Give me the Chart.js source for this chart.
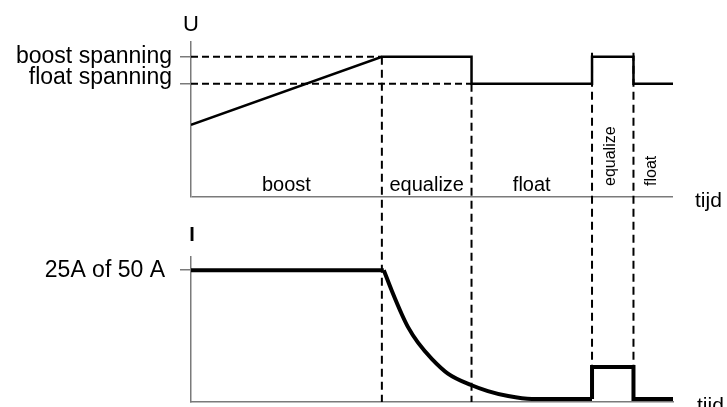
<!DOCTYPE html>
<html>
<head>
<meta charset="utf-8">
<title>Laadfasen</title>
<script src="https://cdn.jsdelivr.net/npm/chart.js@4"></script>
<style>
  html, body { margin: 0; padding: 0; background: #fff; }
  #wrap { width: 727px; height: 407px; }
</style>
</head>
<body>
<div id="wrap"><canvas id="chart" width="727" height="407"></canvas></div>
<script>
// laadfasen, tijd-as loopt van 0 tot 100
const phaseNames = ['boost', 'equalize', 'float', 'equalize', 'float'];
const phaseEdges = [0, 39.6, 58.2, 83.2, 91.8, 100];

// spanning (relatieve schaal 0..100)
const uTickLabels = ['boost spanning', 'float spanning'];
const uTickValues = [90.5, 73];
const uTime = [0, 39.6, 58.2, 58.2, 83.2, 83.2, 91.8, 91.8, 100];
const uValues = [46.5, 90.5, 90.5, 73, 73, 90.5, 90.5, 73, 73];

// stroom (relatieve schaal 0..110)
const iTickLabels = ['25A of 50 A'];
const iTickValues = [100];
const iChargeTime = [0, 40];
const iChargeValues = [100, 100];
const iDecayTime = [40, 41.7, 43.8, 45, 47.1, 50, 53.3, 58.1, 61.6, 65.8, 70.7, 83.2];
const iDecayValues = [100, 84, 66, 57, 45, 32.6, 21.6, 12.9, 8.3, 4.5, 2.3, 2.3];
const iPulseTime = [83.2, 83.2, 91.8, 91.8, 100];
const iPulseValues = [2.3, 26.6, 26.6, 2.3, 2.3];

const axisGrey = '#7a7a7a';
const fontFamily = "'Liberation Sans', Arial, sans-serif";

const toPoints = (xs, ys) => xs.map((x, i) => ({ x: x, y: ys[i] }));

// lijnen die over beide grafieken lopen + teksten
const annotations = {
    id: 'annotations',
    beforeDatasetsDraw(chart) {
        const { ctx } = chart;
        const x = chart.scales.x;
        const yU = chart.scales.yU;
        const yI = chart.scales.yI;
        const boost = uTickValues[0];
        const float = uTickValues[1];
        const pulseTop = Math.max(...iPulseValues);

        const dashed = (x1, y1, x2, y2) => {
            ctx.beginPath();
            ctx.moveTo(x1, y1);
            ctx.lineTo(x2, y2);
            ctx.stroke();
        };

        ctx.save();
        ctx.strokeStyle = '#000';
        ctx.lineWidth = 2;
        ctx.setLineDash([7, 4]);
        dashed(x.getPixelForValue(0), yU.getPixelForValue(boost), x.getPixelForValue(phaseEdges[1]), yU.getPixelForValue(boost));
        dashed(x.getPixelForValue(0), yU.getPixelForValue(float), x.getPixelForValue(phaseEdges[2]), yU.getPixelForValue(float));
        ctx.setLineDash([8, 5]);
        dashed(x.getPixelForValue(phaseEdges[1]), yU.getPixelForValue(boost), x.getPixelForValue(phaseEdges[1]), yI.getPixelForValue(0));
        dashed(x.getPixelForValue(phaseEdges[2]), yU.getPixelForValue(float), x.getPixelForValue(phaseEdges[2]), yI.getPixelForValue(0));
        dashed(x.getPixelForValue(phaseEdges[3]), yU.getPixelForValue(boost) - 4, x.getPixelForValue(phaseEdges[3]), yI.getPixelForValue(pulseTop));
        dashed(x.getPixelForValue(phaseEdges[4]), yU.getPixelForValue(boost) - 4, x.getPixelForValue(phaseEdges[4]), yI.getPixelForValue(pulseTop));
        ctx.restore();
    },
    afterDraw(chart) {
        const { ctx } = chart;
        const x = chart.scales.x;
        const yU = chart.scales.yU;
        const yI = chart.scales.yI;

        ctx.save();
        ctx.fillStyle = '#000';

        // aslabels
        ctx.textAlign = 'center';
        ctx.textBaseline = 'middle';
        ctx.font = '22px ' + fontFamily;
        ctx.fillText('U', x.left, yU.top - 17);
        ctx.font = 'bold 20px ' + fontFamily;
        ctx.fillText('I', x.left + 1, yI.top - 22);

        ctx.textAlign = 'left';
        ctx.font = '21px ' + fontFamily;
        ctx.fillText('tijd', x.right + 22, yU.getPixelForValue(0) + 4);
        ctx.fillText('tijd', x.right + 24, yI.getPixelForValue(0) + 4);

        // fasenamen, smalle fasen verticaal
        phaseNames.forEach((name, i) => {
            const left = x.getPixelForValue(phaseEdges[i]);
            const right = x.getPixelForValue(phaseEdges[i + 1]);
            const mid = (left + right) / 2;
            ctx.font = '20px ' + fontFamily;
            if (ctx.measureText(name).width + 10 < right - left) {
                ctx.textAlign = 'center';
                ctx.textBaseline = 'alphabetic';
                ctx.fillText(name, mid, yU.getPixelForValue(0) - 6);
            } else {
                ctx.save();
                ctx.font = '16px ' + fontFamily;
                ctx.translate(mid - 2, yU.getPixelForValue(0) - 11);
                ctx.rotate(-Math.PI / 2);
                ctx.textAlign = 'left';
                ctx.textBaseline = 'middle';
                ctx.fillText(name, 0, 0);
                ctx.restore();
            }
        });
        ctx.restore();
    }
};

// vaste breedte voor de linker assen, geen extra ruimte voor labels boven/onder
const fixLeftAxis = (scale) => {
    scale.width = 191;
    scale.paddingTop = 0;
    scale.paddingBottom = 0;
};

const panelAxis = (weight, max, values, labels, padding, baseline) => ({
    type: 'linear',
    position: 'left',
    stack: 'panels',
    stackWeight: weight,
    min: 0,
    max: max,
    afterBuildTicks: (scale) => {
        scale.ticks = [0, ...values].map(v => ({ value: v }));
    },
    afterFit: fixLeftAxis,
    ticks: {
        autoSkip: false,
        color: '#000',
        padding: padding,
        font: { family: fontFamily, size: 23, lineHeight: 0.55 },
        callback: (value) => {
            const i = values.indexOf(value);
            if (i < 0) return '';
            // tweede label iets omhoog, zoals in het origineel
            return i === 1 ? [labels[i], ''] : labels[i];
        }
    },
    grid: {
        drawOnChartArea: baseline,
        color: (ctx) => (ctx.tick && ctx.tick.value === 0 ? axisGrey : 'transparent'),
        lineWidth: 1.5,
        tickLength: 11,
        tickWidth: 1.5,
        tickColor: (ctx) => (ctx.tick && ctx.tick.value === 0 ? 'transparent' : axisGrey)
    },
    border: { color: axisGrey, width: 1.5 }
});

const lineStyle = { borderColor: '#000', pointRadius: 0, tension: 0 };

const chart = new Chart(document.getElementById('chart'), {
    type: 'line',
    data: {
        datasets: [
            { ...lineStyle, label: 'U', data: toPoints(uTime, uValues), yAxisID: 'yU', borderWidth: 2.5 },
            { ...lineStyle, label: 'I', data: toPoints(iChargeTime, iChargeValues), yAxisID: 'yI', borderWidth: 4 },
            { ...lineStyle, label: 'I afname', data: toPoints(iDecayTime, iDecayValues), yAxisID: 'yI', borderWidth: 4, cubicInterpolationMode: 'monotone' },
            { ...lineStyle, label: 'I equalize', data: toPoints(iPulseTime, iPulseValues), yAxisID: 'yI', borderWidth: 4 }
        ]
    },
    options: {
        responsive: false,
        animation: false,
        devicePixelRatio: 1,
        layout: { padding: { left: 0, top: 42, right: 54, bottom: 0 } },
        plugins: {
            legend: { display: false },
            tooltip: { enabled: false }
        },
        scales: {
            x: {
                type: 'linear',
                position: 'bottom',
                min: 0,
                max: 100,
                grid: { display: false },
                ticks: { display: false },
                border: { color: axisGrey, width: 1.5 },
                afterFit: (scale) => { scale.height = 5; }
            },
            yI: panelAxis(145, 110, iTickValues, iTickLabels, 15, false),
            gap: {
                type: 'linear',
                position: 'left',
                stack: 'panels',
                stackWeight: 60,
                display: false,
                afterFit: fixLeftAxis
            },
            yU: panelAxis(155, 100, uTickValues, uTickLabels, 8, true)
        }
    },
    plugins: [annotations]
});
</script>
</body>
</html>
